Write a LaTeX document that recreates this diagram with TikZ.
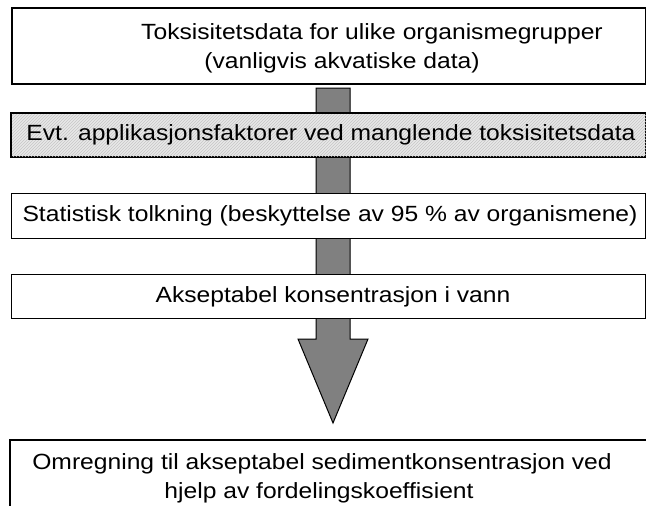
\documentclass[tikz,border=0pt]{standalone}
\usepackage{fontspec}
\usepackage{graphicx}
\setmainfont{Liberation Sans}
\usetikzlibrary{patterns}
\newcommand{\wtxt}[1]{\scalebox{1.12}[1]{#1}}
\begin{document}
\begin{tikzpicture}[x=1pt,y=1pt,
  boxstyle/.style={draw=black, line width=1.4pt, fill=white, inner sep=0pt, anchor=north west},
  txt/.style={font=\fontsize{22}{26}\selectfont, inner sep=0pt},
  arrowfill/.style={fill={rgb,255:red,128;green,128;blue,128}, draw=black, line width=1pt}]
\useasboundingbox (0,0) rectangle (646,-506);
% big arrow (behind boxes)
\draw[arrowfill]
  (316,-88) -- (350,-88) -- (350,-339) -- (368,-339) -- (333,-423) -- (298,-339) -- (316,-339) -- cycle;
% box 1
\node[boxstyle, line width=1.7pt, minimum width=634pt, minimum height=76pt] (b1) at (11,-7) {};
\node[txt] (t1a) at (372,-34) {\wtxt{Toksisitetsdata for ulike organismegrupper}};
\node[txt] (t1b) at (342,-63) {\wtxt{(vanligvis akvatiske data)}};
% box 2 (hatched)
\node[boxstyle, fill={rgb,255:red,232;green,232;blue,232}, minimum width=634pt, minimum height=43pt] (b2) at (11,-113) {};
\fill[pattern=north east lines, pattern color=gray!45] (b2.south west) rectangle (b2.north east);
\draw[line width=1.4pt] (b2.south west) rectangle (b2.north east);
\node[txt] (t2) at (331,-135) {\wtxt{Evt. applikasjonsfaktorer ved manglende toksisitetsdata}};
% box 3
\node[boxstyle, minimum width=634pt, minimum height=45pt] (b3) at (11,-193) {};
\node[txt] (t3) at (330,-216) {\wtxt{Statistisk tolkning (beskyttelse av 95 \% av organismene)}};
% box 4
\node[boxstyle, minimum width=634pt, minimum height=44pt] (b4) at (11,-274) {};
\node[txt] (t4) at (333,-297) {\wtxt{Akseptabel konsentrasjon i vann}};
% box 5 (open at bottom and right)
\node[inner sep=0pt, anchor=north west, minimum width=636pt, minimum height=66pt] (b5) at (10,-440) {};
\draw[line width=1.7pt] (b5.south west) -- (b5.north west) -- (b5.north east);
\node[txt] (t5a) at (322,-464) {\wtxt{Omregning til akseptabel sedimentkonsentrasjon ved}};
\node[txt] (t5b) at (319,-493) {\wtxt{hjelp av fordelingskoeffisient}};
\end{tikzpicture}
\end{document}
